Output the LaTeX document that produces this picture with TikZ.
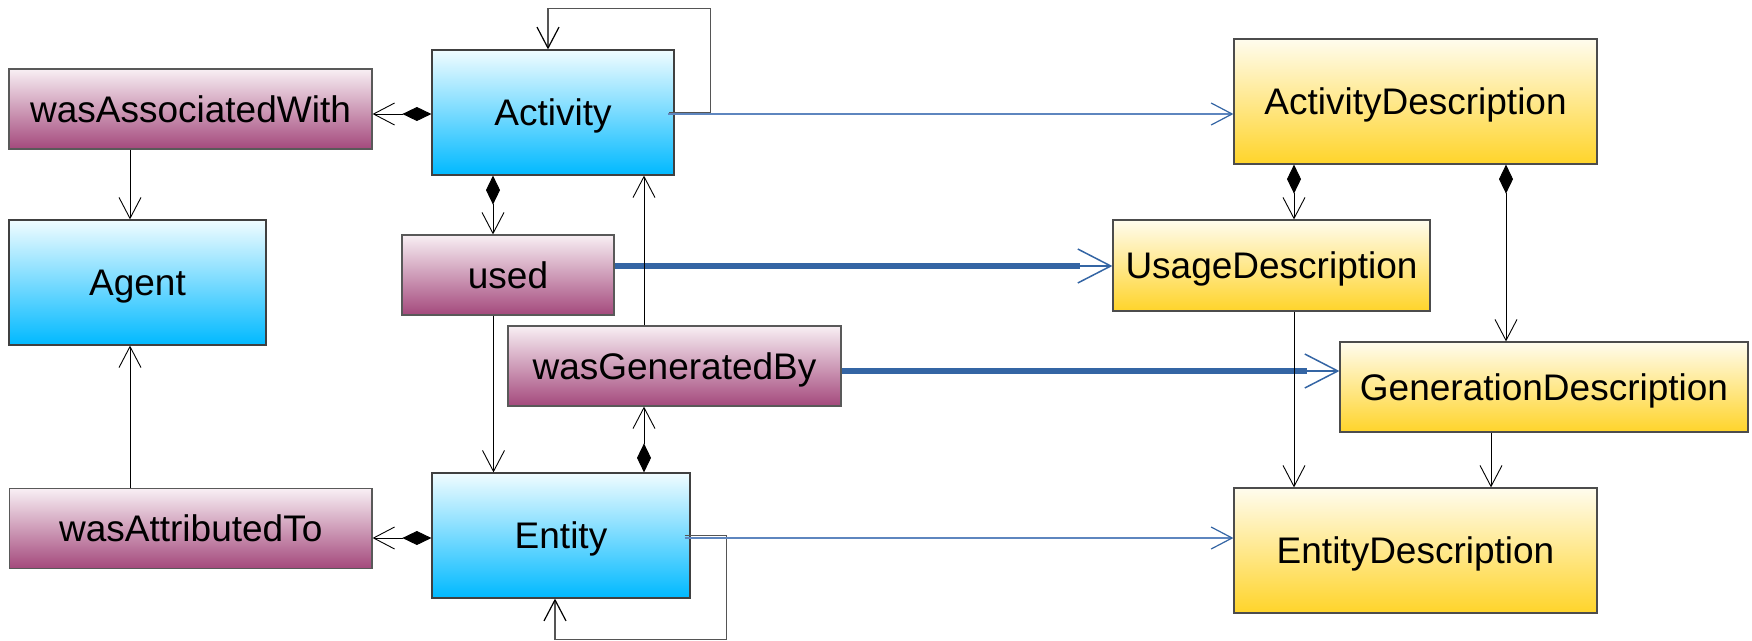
\documentclass[tikz,border=0pt]{standalone}
\usepackage{fontspec}
\setmainfont{Liberation Sans}
\usetikzlibrary{arrows.meta}
\definecolor{blueTop}{HTML}{F0FCFF}
\definecolor{blueBot}{HTML}{00B9FF}
\definecolor{purTop}{HTML}{F8EFF4}
\definecolor{purBot}{HTML}{A4497C}
\definecolor{yelTop}{HTML}{FFFCEE}
\definecolor{yelBot}{HTML}{FFD42A}
\definecolor{linkblue}{HTML}{3465A4}
\definecolor{linkbluelight}{HTML}{5E86BF}
\definecolor{loopgray}{HTML}{555555}
\tikzset{
  box/.style={draw=black!75, line width=1.2pt, inner sep=0pt, align=center,
    text height=26.5pt, text depth=0pt,
    font=\fontsize{37}{44}\selectfont},
  classbox/.style={box, top color=blueTop, bottom color=blueBot},
  relbox/.style={box, draw=black!65, top color=purTop, bottom color=purBot},
  descbox/.style={box, draw=black!70, top color=yelTop, bottom color=yelBot},
  openarr/.style={draw=black, line width=0.9pt, -{Straight Barb[length=21pt,width=22pt]}},
  comp/.style={draw=black, line width=0.9pt, {Diamond[length=29pt,width=14pt]}-{Straight Barb[length=21pt,width=22pt]}},
  loopline/.style={draw=loopgray, line width=1.2pt, -{Straight Barb[length=21pt,width=22pt,color=black]}},
  thinblue/.style={draw=linkbluelight, line width=1.2pt, -{Straight Barb[length=21pt,width=22pt,color=linkblue]}},
  thickblue/.style={draw=linkblue, line width=6.5pt},
  thickbluetip/.style={draw=linkblue, line width=1.5pt, -{Straight Barb[length=33pt,width=34pt]}},
}
\begin{document}
\begin{tikzpicture}[x=1pt,y=-1pt]
\useasboundingbox (0,0) rectangle (1752,640);
% nodes
\node[relbox, minimum width=363pt, minimum height=80pt] (wAW) at (190.5,109) {wasAssociatedWith};
\node[classbox, minimum width=242pt, minimum height=125pt] (Activity) at (553,112.5) {Activity};
\node[classbox, minimum width=257pt, minimum height=125pt] (Agent) at (137.5,282.5) {Agent};
\node[relbox, minimum width=212pt, minimum height=80pt] (used) at (508,275) {used};
\node[relbox, minimum width=333pt, minimum height=80pt] (wGB) at (674.5,366) {wasGeneratedBy};
\node[relbox, minimum width=362.5pt, minimum height=79.5pt] (wAT) at (190.75,528.5) {wasAttributedTo};
\node[classbox, minimum width=258pt, minimum height=125pt] (Entity) at (561,535.5) {Entity};
\node[descbox, minimum width=363pt, minimum height=125pt] (AD) at (1415.5,101.5) {ActivityDescription};
\node[descbox, minimum width=317pt, minimum height=91pt] (UD) at (1271.5,265.5) {UsageDescription};
\node[descbox, minimum width=408pt, minimum height=90pt] (GD) at (1544,387) {GenerationDescription};
\node[descbox, minimum width=363pt, minimum height=125pt] (ED) at (1415.5,550.5) {EntityDescription};
% self loops
\draw[loopline] ([xshift=-5.5pt]Activity.east) -- ++(41,0) |- ([xshift=-5pt,yshift=41.3pt]Activity.north) -- ([xshift=-5pt]Activity.north);
\draw[loopline] ([xshift=-6pt]Entity.east) -- ++(41.6,0) |- ([xshift=-6pt,yshift=-40.5pt]Entity.south) -- ([xshift=-6pt]Entity.south);
% blue thin links
\draw[thinblue] ([xshift=-6.5pt,yshift=-1.5pt]Activity.east) -- ([yshift=-12.5pt]AD.west);
\draw[thinblue] ([xshift=-6pt,yshift=-2.5pt]Entity.east) -- ([yshift=12.5pt]ED.west);
% blue thick links
\draw[thickblue, shorten >=32pt] ([yshift=9pt]used.east) -- ([yshift=-0.5pt]UD.west);
\draw[thickbluetip] ([yshift=9pt]used.east) -- ([yshift=-0.5pt]UD.west);
\draw[thickblue, shorten >=32pt] ([yshift=-5pt]wGB.east) -- ([yshift=16pt]GD.west);
\draw[thickbluetip] ([yshift=-5pt]wGB.east) -- ([yshift=16pt]GD.west);
% compositions
\draw[comp] ([yshift=-1.5pt]Activity.west) -- ([yshift=-5pt]wAW.east);
\draw[comp] ([yshift=-2.5pt]Entity.west) -- ([yshift=-9.5pt]wAT.east);
\draw[comp] ([xshift=-60pt]Activity.south) -- ([xshift=-15pt]used.north);
\draw[comp] ([xshift=83pt]Entity.north) -- ([xshift=-30.5pt]wGB.south);
\draw[comp] ([xshift=-121.5pt]AD.south) -- ([xshift=22.5pt]UD.north);
\draw[comp] ([xshift=90.5pt]AD.south) -- ([xshift=-38pt]GD.north);
% plain arrows
\draw[openarr] ([xshift=-60.5pt]wAW.south) -- ([xshift=-7.5pt]Agent.north);
\draw[openarr] ([xshift=-60.75pt]wAT.north) -- ([xshift=-7.5pt]Agent.south);
\draw[openarr] ([xshift=-14.5pt]used.south) -- ([xshift=-67.5pt]Entity.north);
\draw[openarr] ([xshift=-30.5pt]wGB.north) -- ([xshift=91pt]Activity.south);
\draw[openarr] ([xshift=22.5pt]UD.south) -- ([xshift=-121.5pt]ED.north);
\draw[openarr] ([xshift=-53pt]GD.south) -- ([xshift=75.5pt]ED.north);
\end{tikzpicture}
\end{document}
